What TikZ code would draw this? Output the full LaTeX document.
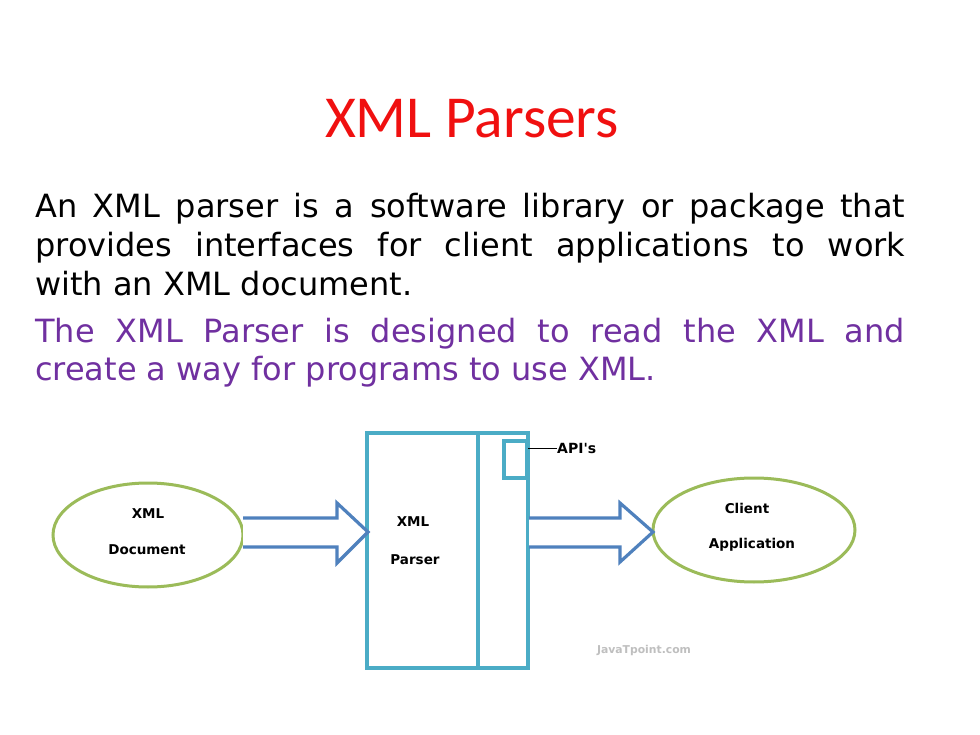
\documentclass[tikz,border=0pt]{standalone}
\usepackage{fontspec}
\usetikzlibrary{shapes.geometric}
\setmainfont{DejaVu Sans}
\newfontfamily\titlefont{Carlito}
\newfontfamily\labfont{DejaVu Sans}
\definecolor{titlered}{HTML}{F01010}
\definecolor{purp}{HTML}{7030A0}
\definecolor{ellgreen}{HTML}{9BBB59}
\definecolor{arrblue}{HTML}{4F81BD}
\definecolor{boxteal}{HTML}{4BACC6}
\definecolor{wmark}{HTML}{BFBFBF}
\begin{document}
\begin{tikzpicture}[x=1pt,y=-1pt,
  bodyline/.style={anchor=base west,inner sep=0pt,font=\fontsize{32}{38}\selectfont},
  lab/.style={font=\labfont\bfseries\fontsize{13.5}{16}\selectfont,inner sep=0pt},
  ell/.style={draw=ellgreen,line width=3pt,ellipse,inner sep=0pt},
  blockarrow/.style={draw=arrblue,line width=3.2pt,fill=white,line join=miter},
  tealbox/.style={draw=boxteal,line width=3.2pt}]
\useasboundingbox (0,0) rectangle (980,735);
\fill[white] (0,0) rectangle (980,735);
% title
\node[font=\titlefont\fontsize{59.5}{66}\selectfont,text=titlered,inner sep=0pt,anchor=base] (title) at (472,138) {XML Parsers};
% body
\node[bodyline] (l1) at (35,218) {\makebox[870pt][s]{An XML parser is a software library or package that}};
\node[bodyline] (l2) at (35,257) {\makebox[870pt][s]{provides interfaces for client applications to work}};
\node[bodyline] (l3) at (35,296) {with an XML document.};
\node[bodyline,text=purp] (l4) at (35,342) {\makebox[870pt][s]{The XML Parser is designed to read the XML and}};
\node[bodyline,text=purp] (l5) at (35,380) {create a way for programs to use XML.};
% ellipses
\node[ell,minimum width=190pt,minimum height=104pt] (doc) at (148,535) {};
\node[lab] (doc1) at (148,514) {XML};
\node[lab] (doc2) at (147,550) {Document};
\node[ell,minimum width=202pt,minimum height=104pt] (cli) at (754,530) {};
\node[lab] (cl1) at (747,508) {Client};
\node[lab] (cl2) at (752,545) {Application};
% parser box
\draw[tealbox] (367,433) rectangle (528,668);
\draw[tealbox] (478,433) -- (478,668);
\draw[tealbox] (504,441) rectangle (527,478);
\node[lab] (p1) at (413,522) {XML};
\node[lab] (p2) at (415,560) {Parser};
\coordinate (apiS) at (528,448);
\node[lab,anchor=west,font=\labfont\bfseries\fontsize{14}{16}\selectfont] (api) at (557,448) {API's};
\draw[black,line width=1pt] (apiS) -- (api.west);
% arrows
\draw[blockarrow] (243,518) -- (337,518) -- (337,503) -- (368,532) -- (337,563) -- (337,547) -- (243,547);
\draw[blockarrow] (529,518) -- (620,518) -- (620,503) -- (653,532) -- (620,562) -- (620,547) -- (529,547);
% watermark
\node[font=\labfont\bfseries\fontsize{10.8}{12}\selectfont,text=wmark,inner sep=0pt] (wm) at (644,651) {JavaTpoint.com};
\end{tikzpicture}
\end{document}
